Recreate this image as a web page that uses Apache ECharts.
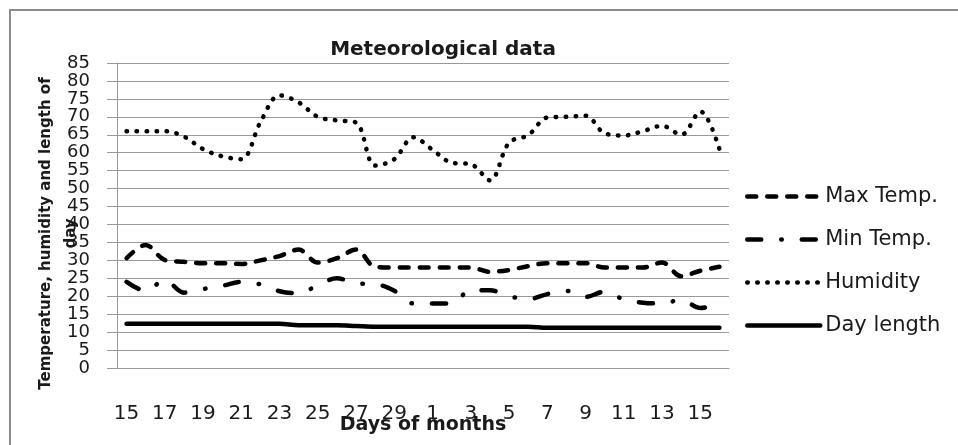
<!DOCTYPE html>
<html>
<head>
<meta charset="utf-8">
<script src="https://cdn.jsdelivr.net/npm/echarts@6/dist/echarts.min.js"></script>
<style>
  html, body { margin: 0; padding: 0; background: #fff; }
  #chart { width: 958px; height: 445px; }
</style>
</head>
<body>
<div id="chart"></div>
<script>
// days 15..30 of the first month, then 1..16 of the next
const days = ['15', '16', '17', '18', '19', '20', '21', '22', '23', '24', '25', '26', '27', '28', '29', '30',
  '1', '2', '3', '4', '5', '6', '7', '8', '9', '10', '11', '12', '13', '14', '15', '16']

const maxTemp = [30.6, 34.3, 30.1, 29.6, 29.2, 29.2, 29, 30, 31.2, 33, 29.4, 30.6, 33, 28.2, 28, 28,
  28, 28, 28, 26.8, 27.3, 28.4, 29.2, 29.2, 29.2, 28, 28, 28, 29.4, 25.6, 27.1, 28.2]
const minTemp = [24, 21.5, 24.5, 21, 22, 22.9, 24, 23.3, 21.4, 20.8, 23.1, 25, 23.6, 23.4, 21.5, 18,
  18, 18, 21.7, 21.7, 20, 19.2, 20.6, 21.5, 19.8, 21.3, 19.1, 18.2, 18, 19, 16.7, 18]
const humidity = [66, 66, 66, 64.5, 61, 59, 58.2, 68.5, 76, 74, 70, 69, 68.4, 56.4, 58.2, 64.3,
  60.8, 57.2, 56.8, 52.3, 62.8, 64.9, 69.8, 70, 70.3, 65.4, 64.8, 66, 67.5, 65, 71.5, 61]
const dayLength = [12.3, 12.3, 12.3, 12.3, 12.3, 12.3, 12.3, 12.3, 12.3, 11.9, 11.9, 11.9, 11.7, 11.5, 11.5, 11.5,
  11.5, 11.5, 11.5, 11.5, 11.5, 11.5, 11.2, 11.2, 11.2, 11.2, 11.2, 11.2, 11.2, 11.2, 11.2, 11.2]

const yMin = 0
const yMax = 85
const yStep = 5

const font = '"DejaVu Sans", sans-serif'
const ink = '#1a1a1a'

const chart = echarts.init(document.getElementById('chart'))

function lineSeries(name, data, type) {
  return {
    name,
    type: 'line',
    data,
    yAxisIndex: 0,
    smooth: 0.35,
    symbol: 'none',
    lineStyle: { color: '#000', width: 4.5, type, cap: 'round', join: 'round' },
    itemStyle: { color: '#000' },
    animation: false,
  }
}

// the labels sit closer than their own height, so echarts would drop some;
// split them over two stacked axes (tens / fives) so every one is drawn
const labelStyle = { margin: 27, fontFamily: font, fontSize: 18, color: ink }

chart.setOption({
  backgroundColor: '#fff',
  graphic: [
    {
      type: 'rect',
      shape: { x: 10, y: 10, width: 960, height: 450 },
      style: { fill: 'none', stroke: '#8c8c8c', lineWidth: 2 },
      silent: true,
    },
    {
      type: 'text',
      x: 443,
      y: 50,
      style: {
        text: 'Meteorological data',
        fontFamily: font,
        fontSize: 20,
        fontWeight: 'bold',
        fill: ink,
        align: 'center',
        verticalAlign: 'middle',
      },
    },
  ],
  legend: {
    orient: 'vertical',
    left: 740,
    top: 181,
    itemWidth: 73,
    itemHeight: 14,
    itemGap: 22,
    itemStyle: { opacity: 0 },
    lineStyle: { width: 4.5 },
    textStyle: { fontFamily: font, fontSize: 21, color: ink },
    data: ['Max Temp.', 'Min Temp.', 'Humidity', 'Day length'],
  },
  grid: { left: 117, right: 229, top: 63, bottom: 77 },
  xAxis: {
    type: 'category',
    data: days,
    boundaryGap: true,
    name: 'Days of months',
    nameLocation: 'middle',
    nameGap: 48,
    nameMoveOverlap: false,
    nameTextStyle: { fontFamily: font, fontSize: 19, fontWeight: 'bold', color: ink },
    axisLine: { lineStyle: { color: '#999', width: 1 } },
    axisTick: { show: false },
    axisLabel: { interval: 1, margin: 36, fontFamily: font, fontSize: 20, color: ink },
  },
  yAxis: [
    {
      type: 'value',
      position: 'left',
      offset: 0,
      min: yMin,
      max: yMax,
      interval: yStep,
      name: 'Temperature, humidity and length of\nday',
      nameLocation: 'middle',
      nameGap: 33,
      nameMoveOverlap: false,
      nameTextStyle: {
        fontFamily: font, fontSize: 15, fontWeight: 'bold', color: ink,
        lineHeight: 25, align: 'center', padding: [0, 36, 0, 0],
      },
      axisLine: { show: true, lineStyle: { color: '#999', width: 1 } },
      axisTick: { show: true, length: 10, lineStyle: { color: '#999' } },
      splitLine: { lineStyle: { color: '#999', width: 1 } },
      axisLabel: { ...labelStyle, formatter: v => (v % 10 === 0 ? String(v) : '') },
    },
    {
      type: 'value',
      position: 'left',
      offset: 0,
      min: yMin,
      max: yMax,
      interval: yStep,
      axisLine: { show: false },
      axisTick: { show: false },
      splitLine: { show: false },
      axisLabel: { ...labelStyle, formatter: v => (v % 10 === 5 ? String(v) : '') },
    },
  ],
  series: [
    lineSeries('Max Temp.', maxTemp, [9, 11]),
    lineSeries('Min Temp.', minTemp, [14, 20, 0.5, 20]),
    lineSeries('Humidity', humidity, [0.5, 9.5]),
    lineSeries('Day length', dayLength, 'solid'),
  ],
})
</script>
</body>
</html>
